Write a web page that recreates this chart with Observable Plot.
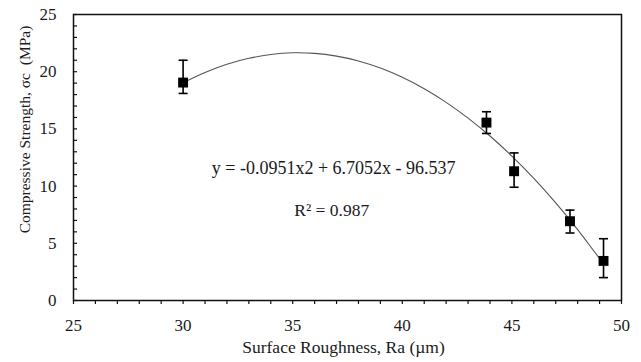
<!DOCTYPE html>
<html>
<head>
<meta charset="utf-8">
<script src="https://cdn.jsdelivr.net/npm/d3@7"></script>
<script src="https://cdn.jsdelivr.net/npm/@observablehq/plot@0.6"></script>
<style>
  html, body { margin: 0; padding: 0; background: #fff; }
  svg { display: block; }
  #chart svg, #chart svg text, #chart svg g { font-family: "Liberation Serif", "Times New Roman", Times, serif !important; }
</style>
</head>
<body>
<div id="chart"></div>
<script>
// Measured points: surface roughness Ra (µm) and compressive strength (MPa)
const roughness = [30.0, 43.84, 45.1, 47.65, 49.18];
const strength = [19.05, 15.55, 11.3, 6.93, 3.46];
const errLow = [18.1, 14.6, 9.9, 5.9, 2.0];
const errHigh = [21.0, 16.5, 12.9, 7.9, 5.4];

// Polynomial trend line
const fitX = [30, 31, 32, 33, 34, 35, 36, 37, 38, 39, 40, 41, 42, 43, 44, 45, 46, 47, 48, 49, 49.18];
const fitY = [19.03, 19.93, 20.65, 21.17, 21.50, 21.65, 21.60, 21.36, 20.94, 20.32, 19.51, 18.51, 17.32, 15.94, 14.38, 12.62, 10.67, 8.53, 6.20, 3.68, 3.30];

// Tick labels
const xMajor = [25, 30, 35, 40, 45, 50];
const yMajor = [0, 5, 10, 15, 20, 25];
const xMinor = d3.range(25, 51, 1);
const yMinor = d3.range(0, 26, 1);

const equationText = ["y = -0.0951x2 + 6.7052x - 96.537"];
const r2Text = ["R\u00B2 = 0.987"];
const xTitle = "Surface Roughness, Ra (\u00B5m)";
const yTitle = "Compressive Strength, \u03C3c\u00A0\u00A0(MPa)";

const points = roughness.map((x, i) => ({x, y: strength[i], lo: errLow[i], hi: errHigh[i]}));
const fit = fitX.map((x, i) => ({x, y: fitY[i]}));

const cap = {
  draw(context, size) {
    const w = Math.sqrt(size) / 2;
    context.moveTo(-w, 0);
    context.lineTo(w, 0);
  }
};

const font = "'Liberation Serif', 'Times New Roman', Times, serif";

const chart = Plot.plot({
  width: 641,
  height: 362,
  marginLeft: 73,
  marginRight: 20,
  marginTop: 14,
  marginBottom: 62,
  style: {fontFamily: font, fontSize: "17px", color: "#1a1a1a", background: "#fff"},
  x: {domain: [25, 50]},
  y: {domain: [0, 25]},
  marks: [
    Plot.axisX(xMinor, {tickSize: 4, stroke: "#111", strokeWidth: 1.2, tickFormat: () => "", label: null}),
    Plot.axisX(xMajor, {tickSize: 0, tickPadding: 18, fontSize: 17, label: null}),
    Plot.axisY(yMinor, {tickSize: -4, stroke: "#111", strokeWidth: 1.2, tickFormat: () => "", label: null}),
    Plot.axisY(yMajor, {tickSize: 0, tickPadding: 17, fontSize: 17, label: null}),
    Plot.frame({stroke: "#111", strokeWidth: 1.5}),
    Plot.line(fit, {x: "x", y: "y", curve: "catmull-rom", stroke: "#555", strokeWidth: 1.1}),
    Plot.ruleX(points, {x: "x", y1: "lo", y2: "hi", stroke: "#000", strokeWidth: 1.6}),
    Plot.dot(points, {x: "x", y: "lo", symbol: cap, r: 5.1, stroke: "#000", strokeWidth: 1.6, fill: "none"}),
    Plot.dot(points, {x: "x", y: "hi", symbol: cap, r: 5.1, stroke: "#000", strokeWidth: 1.6, fill: "none"}),
    Plot.dot(points, {x: "x", y: "y", symbol: "square", r: 5.6, fill: "#000", stroke: "none"}),
    Plot.text(equationText, {x: 36.87, y: 11.53, text: d => d, fontSize: 18, fill: "#1a1a1a"}),
    Plot.text(r2Text, {x: 36.78, y: 7.86, text: d => d, fontSize: 17.5, fill: "#1a1a1a"}),
    Plot.text([xTitle], {frameAnchor: "bottom", text: d => d, textAnchor: "middle", dx: -4, dy: 52, fontSize: 17.5, fill: "#1a1a1a"}),
    Plot.text([yTitle], {frameAnchor: "left", text: d => d, textAnchor: "middle", rotate: -90, dx: -48, dy: -28, fontSize: 15.5, fill: "#1a1a1a"})
  ]
});

document.getElementById("chart").appendChild(chart);
</script>
</body>
</html>
